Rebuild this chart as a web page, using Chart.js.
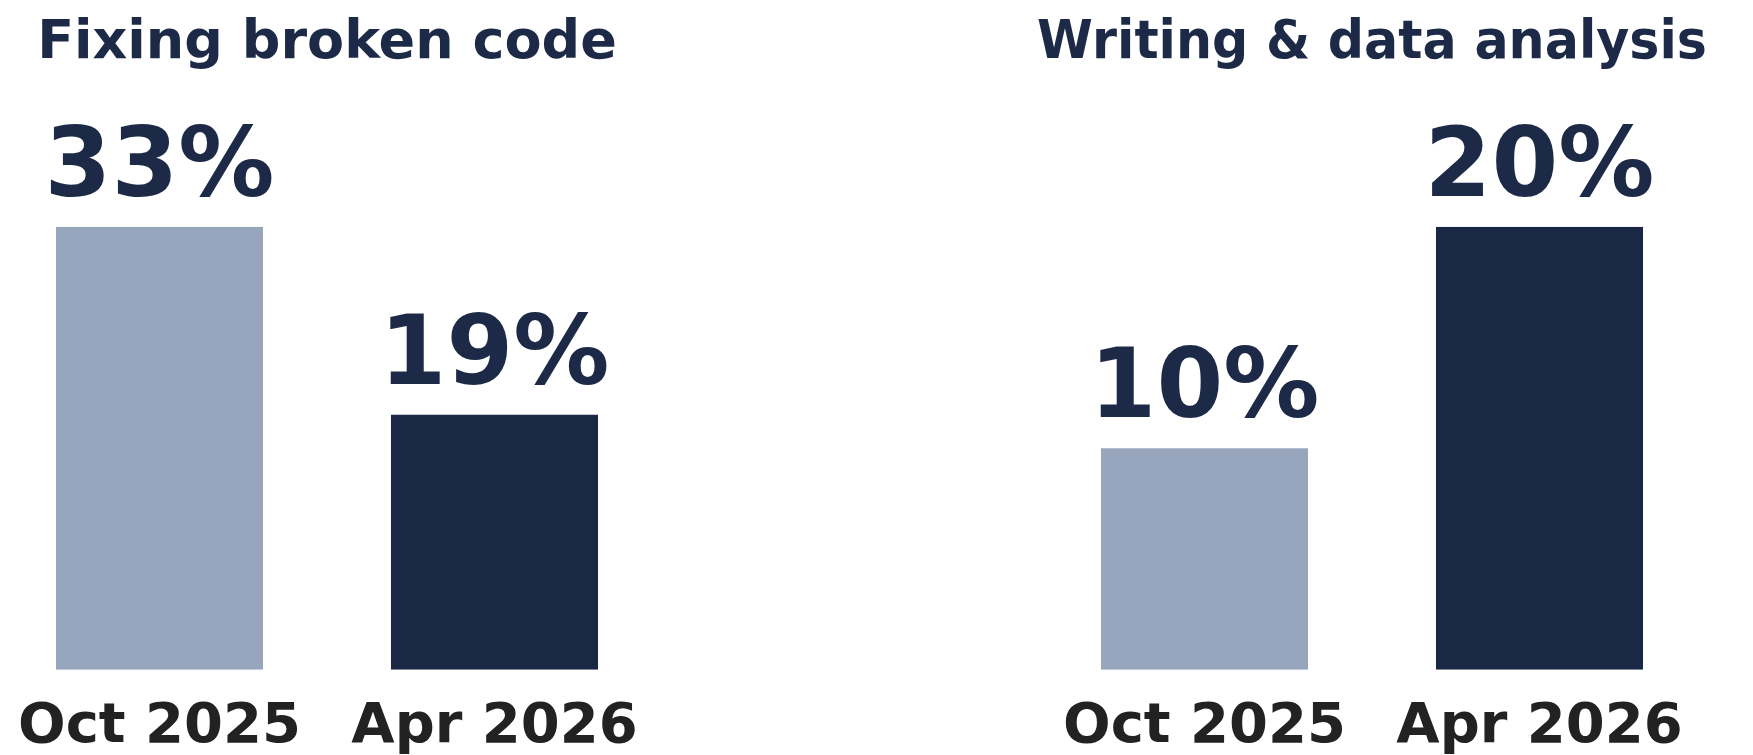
<!DOCTYPE html>
<html>
<head>
<meta charset="utf-8">
<title>Share of usage</title>
<script src="https://cdn.jsdelivr.net/npm/chart.js@4"></script>
<style>
  html, body { margin: 0; padding: 0; background: #ffffff; }
  body { width: 1753px; height: 755px; position: relative; overflow: hidden; }
  .panel { position: absolute; top: 0; width: 670px; height: 785px; }
  #leftPanel { left: -8px; }
  #rightPanel { left: 1037px; }
</style>
</head>
<body>
<div class="panel" id="leftPanel"><canvas id="fixingChart" width="670" height="785"></canvas></div>
<div class="panel" id="rightPanel"><canvas id="writingChart" width="670" height="785"></canvas></div>
<script>
// Data
const categories = ['Oct 2025', 'Apr 2026'];
const fixingValues = [33, 19];
const writingValues = [10, 20];
const panelTitles = ['Fixing broken code', 'Writing & data analysis'];
const barColors = ['#97a6bd', '#1b2845'];

const navy = '#1c2a48';
const labelGray = '#222222';
const fontFamily = "'DejaVu Sans', 'Liberation Sans', sans-serif";

// Draws the big "33%" labels above each bar
const valueLabels = {
  id: 'valueLabels',
  afterDatasetsDraw(chart) {
    const ctx = chart.ctx;
    const meta = chart.getDatasetMeta(0);
    ctx.save();
    ctx.font = `bold 96px ${fontFamily}`;
    ctx.fillStyle = navy;
    ctx.textAlign = 'center';
    ctx.textBaseline = 'alphabetic';
    meta.data.forEach((bar, i) => {
      const v = chart.data.datasets[0].data[i];
      ctx.fillText(v + '%', bar.x, bar.y - 31);
    });
    ctx.restore();
  }
};

function makeChart(canvasId, title, values) {
  const ctx = document.getElementById(canvasId).getContext('2d');
  return new Chart(ctx, {
    type: 'bar',
    data: {
      labels: categories,
      datasets: [{
        data: values,
        backgroundColor: barColors,
        borderWidth: 0,
        categoryPercentage: 1,
        barPercentage: 0.618,
      }]
    },
    options: {
      responsive: false,
      animation: false,
      events: [],
      layout: { padding: 0 },
      scales: {
        x: {
          grid: { display: false, drawTicks: false },
          border: { display: false },
          ticks: {
            color: labelGray,
            padding: 24,
            font: { family: fontFamily, size: 56, weight: 'bold' }
          }
        },
        y: {
          display: false,
          min: 0,
          max: Math.max(...values)
        }
      },
      plugins: {
        legend: { display: false },
        tooltip: { enabled: false },
        title: {
          display: true,
          text: title,
          color: navy,
          padding: { top: 12, bottom: 150 },
          font: { family: fontFamily, size: 54, weight: 'bold' }
        }
      }
    },
    plugins: [valueLabels]
  });
}

const fixingChart = makeChart('fixingChart', panelTitles[0], fixingValues);
const writingChart = makeChart('writingChart', panelTitles[1], writingValues);
</script>
</body>
</html>
